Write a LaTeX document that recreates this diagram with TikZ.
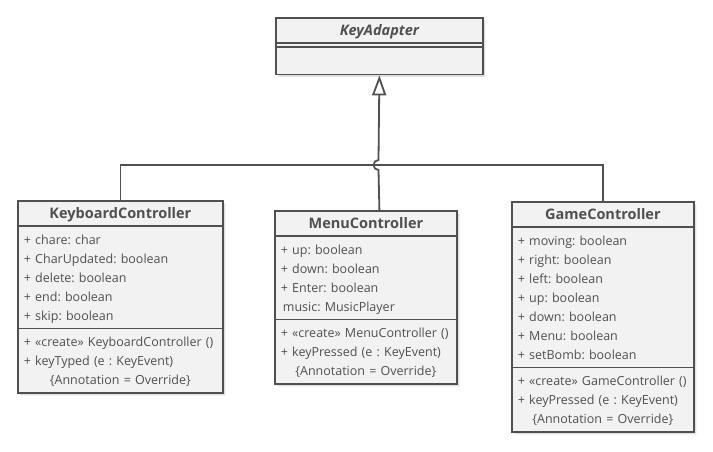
\documentclass[tikz,border=0pt]{standalone}
\usepackage{fontspec}
\setmainfont{Open Sans}
\usetikzlibrary{arrows.meta,shapes.multipart,shadows}
\definecolor{umlline}{HTML}{505050}
\definecolor{umlfill}{HTML}{F2F2F2}
\definecolor{umltext}{HTML}{505050}
\newcommand{\umlname}[1]{\makebox[\hsize]{\fontsize{14.5}{19}\selectfont\bfseries\rule[-4.5pt]{0pt}{18pt}#1}}
\newcommand{\umlnote}[1]{\makebox[\hsize]{#1}}
\newcommand{\umlrows}[1]{\rule[-4.5pt]{0pt}{19pt}#1\rule[-4.5pt]{0pt}{19pt}}
\tikzset{%
	umlclass/.style = {draw=umlline, fill=umlfill, line width=1.8pt, rectangle split, rectangle split parts=3,
		anchor=north west, inner xsep=6pt, inner ysep=2.75pt, align=left, text=umltext,
		font=\fontsize{12.5}{19}\selectfont\frenchspacing,
		drop shadow={shadow xshift=2.5pt, shadow yshift=-2.5pt, fill=black, opacity=0.12}},
	umlabstract/.style = {umlclass, rectangle split parts=2},
	link/.style       = {draw=umlline, line width=1.8pt},
	generalize/.style = {link, -{Triangle[open, length=20pt, width=14pt, line width=1.8pt]}},
}
\begin{document}
\begin{tikzpicture}[x=1pt, y=-1pt]
	\useasboundingbox (0,0) rectangle (713,452);
	% classes
	\node[umlabstract, text width=195pt] (ka) at (275,17) {\umlname{\itshape KeyAdapter}\nodepart{two}\rule[-4pt]{0pt}{24pt}};
	\draw[link] ([yshift=-4pt]ka.text split west) -- ([yshift=-4pt]ka.text split east);
	\node[umlclass, text width=193pt] (kc) at (17,200) {\umlname{KeyboardController}
		\nodepart{two}\umlrows{+ chare: char\\+ CharUpdated: boolean\\+ delete: boolean\\+ end: boolean\\+ skip: boolean}
		\nodepart{three}\umlrows{+ «create» KeyboardController ()\\+ keyTyped (e : KeyEvent)\\\umlnote{\{Annotation = Override\}}}};
	\node[umlclass, text width=170pt] (mc) at (274,210) {\umlname{MenuController}
		\nodepart{two}\umlrows{+ up: boolean\\+ down: boolean\\+ Enter: boolean\\\hspace*{2pt}music: MusicPlayer}
		\nodepart{three}\umlrows{+ «create» MenuController ()\\+ keyPressed (e : KeyEvent)\\\umlnote{\{Annotation = Override\}}}};
	\node[umlclass, text width=170pt] (gc) at (511,201) {\umlname{GameController}
		\nodepart{two}\umlrows{+ moving: boolean\\+ right: boolean\\+ left: boolean\\+ up: boolean\\+ down: boolean\\+ Menu: boolean\\+ setBomb: boolean}
		\nodepart{three}\umlrows{+ «create» GameController ()\\+ keyPressed (e : KeyEvent)\\\umlnote{\{Annotation = Override\}}}};
	% inheritance
	\coordinate (bus) at (378.5,165);
	\draw[link] (kc.north) |- (bus) -| (gc.north);
	\draw[generalize] (mc.north -| ka.south) -- ([yshift=-5pt]bus) arc[start angle=270, end angle=90, radius=5pt] -- (ka.south);
\end{tikzpicture}
\end{document}
